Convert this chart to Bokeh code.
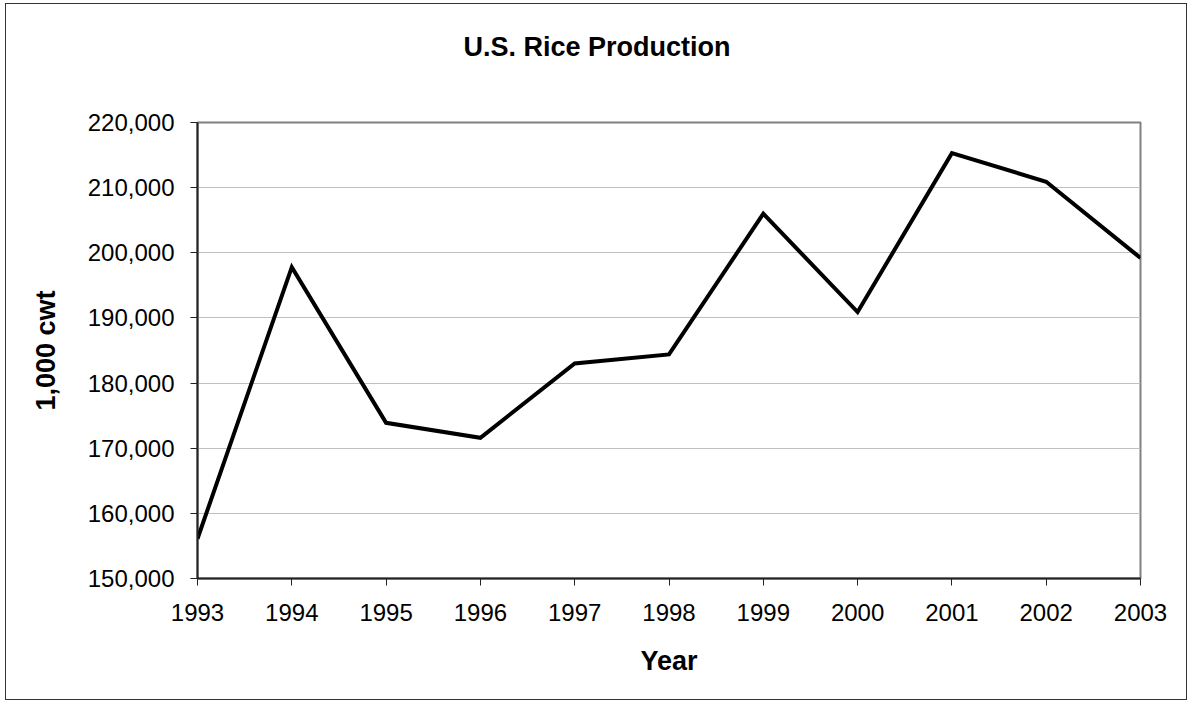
from bokeh.plotting import figure
from bokeh.models import NumeralTickFormatter, FixedTicker, Range1d, Title
from bokeh.embed import file_html
from bokeh.resources import INLINE

years = [1993, 1994, 1995, 1996, 1997, 1998, 1999, 2000, 2001, 2002, 2003]
production = [156100, 197800, 173900, 171600, 183000, 184400, 206000, 190900, 215300, 210900, 199200]
y_ticks = [150000, 160000, 170000, 180000, 190000, 200000, 210000, 220000]
title_text = "U.S. Rice Production"

FONT = "Liberation Sans"

p = figure(width=1182, height=697, output_backend="svg", toolbar_location=None,
           x_range=Range1d(1993, 2003), y_range=Range1d(150000, 220000),
           min_border_left=191, min_border_right=48, min_border_top=118, min_border_bottom=123)
p.styles = {"border": "1px solid #333", "margin-left": "5px", "margin-top": "3px"}

p.title = None
t = Title(text=title_text + "\n \n ", align="left", offset=266, standoff=2,
          vertical_align="bottom",
          text_font=FONT, text_font_size="27px", text_font_style="bold", text_color="black")
p.add_layout(t, "above")

p.line(years, production, line_color="black", line_width=4, line_join="miter")

p.outline_line_color = "#808080"
p.outline_line_width = 2

p.xgrid.grid_line_color = None
p.ygrid.grid_line_color = "#c0c0c0"
p.ygrid.grid_line_width = 1

p.xaxis.ticker = FixedTicker(ticks=years)
p.yaxis.ticker = FixedTicker(ticks=y_ticks)
p.yaxis.formatter = NumeralTickFormatter(format="0,0")

for ax in (p.xaxis[0], p.yaxis[0]):
    ax.axis_line_color = "#222222"
    ax.axis_line_width = 2
    ax.major_tick_line_color = "#222222"
    ax.major_tick_line_width = 1
    ax.major_tick_in = 0
    ax.major_tick_out = 7
    ax.minor_tick_line_color = None
    ax.major_label_text_font = FONT
    ax.major_label_text_font_size = "24px"
    ax.major_label_text_color = "black"
    ax.axis_label_text_font = FONT
    ax.axis_label_text_font_size = "27px"
    ax.axis_label_text_font_style = "bold"
    ax.axis_label_text_color = "black"

p.xaxis.axis_label = "Year"
p.yaxis.axis_label = "1,000 cwt"
p.xaxis.major_label_standoff = 18
p.yaxis.major_label_standoff = 16
p.xaxis.axis_label_standoff = 22
p.yaxis.axis_label_standoff = 24

open("out.html", "w").write(file_html(p, INLINE))
